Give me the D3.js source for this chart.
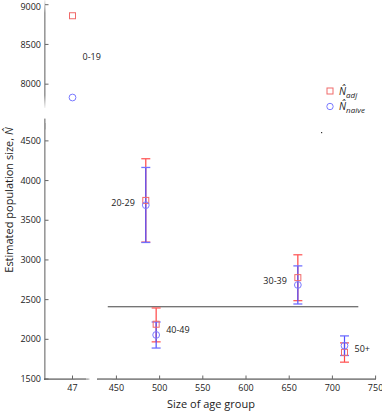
<!DOCTYPE html>
<meta charset="utf-8">
<style>
  body { margin: 0; background: #fff; }
  text { font-family: "Open Sans", "Noto Sans", sans-serif; fill: #222; }
</style>
<body>
<script src="https://d3js.org/d3.v7.min.js"></script>
<script>

// age groups and their sizes
var groups = ["0-19", "20-29", "30-39", "40-49", "50+"];
var sizes  = [47, 484, 660, 496, 714];

// adjusted estimate (squares) with interval
var nAdj   = [8861, 3750, 2777, 2190, 1836];
var adjLo  = [null, 3225, 2487, 1968, 1712];
var adjHi  = [null, 4275, 3065, 2395, 1955];

// naive estimate (circles) with interval
var nNaive  = [7832, 3690, 2685, 2055, 1920];
var naiveLo = [null, 3220, 2445, 1890, 1796];
var naiveHi = [null, 4165, 2925, 2218, 2043];

// label side for each group
var labelSide = ["right", "left", "left", "right", "right"];

var refLine = {y: 2410, from: 440, to: 730};

var topTicks = [8000, 8500, 9000];
var botTicks = [1500, 2000, 2500, 3000, 3500, 4000, 4500];
var xSmallTicks = [47];
var xMainTicks = [450, 500, 550, 600, 650, 700, 750];

var W = 382, H = 411;

var svg = d3.select("body").append("svg")
    .attr("width", W)
    .attr("height", H);

// scales - broken axes in both directions
var yTop = d3.scaleLinear().domain([7700, 9000]).range([108, 4.7]);
var yBot = d3.scaleLinear().domain([1500, 4700]).range([379, 125]);
var xSmall = d3.scaleLinear().domain([41.5, 49.5]).range([45, 85]);
var xMain = d3.scaleLinear().domain([431, 750]).range([100, 375.6]);

function X(v) { return v < 100 ? xSmall(v) : xMain(v); }
function Y(v) { return v > 6000 ? yTop(v) : yBot(v); }

// fading gradients for the break ends
var defs = svg.append("defs");
function grad(id, x1, y1, x2, y2) {
  var g = defs.append("linearGradient").attr("id", id)
      .attr("x1", x1).attr("y1", y1).attr("x2", x2).attr("y2", y2);
  g.append("stop").attr("offset", "0%").attr("stop-color", "#999").attr("stop-opacity", 0.1);
  g.append("stop").attr("offset", "12%").attr("stop-color", "#999");
  g.append("stop").attr("offset", "88%").attr("stop-color", "#999");
  g.append("stop").attr("offset", "100%").attr("stop-color", "#999").attr("stop-opacity", 0.1);
}
grad("gv", 0, 0, 0, 1);
grad("gh", 0, 0, 1, 0);

// left axis segments
svg.append("rect").attr("x", 44).attr("y", 0).attr("width", 1.6).attr("height", 108)
    .attr("fill", "url(#gv)");
svg.append("rect").attr("x", 44).attr("y", 123).attr("width", 1.6).attr("height", 257)
    .attr("fill", "#999");
svg.append("rect").attr("x", 44).attr("y", 118).attr("width", 1.6).attr("height", 12)
    .attr("fill", "url(#gv)");

// bottom axis segments
svg.append("rect").attr("x", 44).attr("y", 378.5).attr("width", 42).attr("height", 1.2)
    .attr("fill", "#555");
svg.append("rect").attr("x", 74).attr("y", 378.5).attr("width", 16).attr("height", 1.2)
    .attr("fill", "url(#gh)");
svg.append("rect").attr("x", 97).attr("y", 378.5).attr("width", 279).attr("height", 1.2)
    .attr("fill", "#555");
svg.append("rect").attr("x", 97).attr("y", 378.5).attr("width", 16).attr("height", 1.2)
    .attr("fill", "url(#gh)");

// y ticks
function yTicks(scale, ticks) {
  var g = svg.append("g");
  g.selectAll("line").data(ticks).enter().append("line")
      .attr("x1", 45).attr("x2", 48.5)
      .attr("y1", function(d) { return scale(d); })
      .attr("y2", function(d) { return scale(d); })
      .attr("stroke", "#666").attr("stroke-width", 1);
  g.selectAll("text").data(ticks).enter().append("text")
      .attr("x", 41).attr("y", function(d) { return Math.max(scale(d), 6.5); })
      .attr("dy", "0.35em")
      .attr("text-anchor", "end")
      .attr("font-size", 9)
      .text(function(d) { return d; });
}
yTicks(yTop, topTicks);
yTicks(yBot, botTicks);

// x ticks
function xTicks(scale, ticks) {
  var g = svg.append("g");
  g.selectAll("line").data(ticks).enter().append("line")
      .attr("x1", function(d) { return scale(d); })
      .attr("x2", function(d) { return scale(d); })
      .attr("y1", 379).attr("y2", 375.5)
      .attr("stroke", "#666").attr("stroke-width", 1);
  g.selectAll("text").data(ticks).enter().append("text")
      .attr("x", function(d) { return scale(d); })
      .attr("y", 391)
      .attr("text-anchor", "middle")
      .attr("font-size", 9)
      .text(function(d) { return d; });
}
xTicks(xSmall, xSmallTicks);
xTicks(xMain, xMainTicks);

// axis titles
svg.append("text")
    .attr("x", 211).attr("y", 408)
    .attr("text-anchor", "middle")
    .attr("font-size", 11)
    .text("Size of age group");

var yl = svg.append("text")
    .attr("transform", "translate(13,200) rotate(-90)")
    .attr("text-anchor", "middle")
    .attr("font-size", 11);
yl.append("tspan").text("Estimated population size, ");
yl.append("tspan").attr("font-style", "italic").text("N\u0302");

// reference line
svg.append("line")
    .attr("x1", xMain(refLine.from)).attr("x2", xMain(refLine.to))
    .attr("y1", yBot(refLine.y)).attr("y2", yBot(refLine.y))
    .attr("stroke", "#444").attr("stroke-width", 1);

var data = groups.map(function(g, i) {
  return {g: g, x: sizes[i], adj: nAdj[i], aLo: adjLo[i], aHi: adjHi[i],
          nv: nNaive[i], nLo: naiveLo[i], nHi: naiveHi[i], side: labelSide[i]};
});

// error bars
function errBars(lo, hi, color, capColor) {
  var g = svg.append("g");
  var d2 = data.filter(function(d) { return d[lo] != null; });
  g.selectAll(".stem").data(d2).enter().append("line")
      .attr("x1", function(d) { return X(d.x); })
      .attr("x2", function(d) { return X(d.x); })
      .attr("y1", function(d) { return Y(d[lo]); })
      .attr("y2", function(d) { return Y(d[hi]); })
      .attr("stroke", color).attr("stroke-width", 1.2);
  [lo, hi].forEach(function(k) {
    g.selectAll(".cap" + k).data(d2).enter().append("line")
        .attr("x1", function(d) { return X(d.x) - 4.5; })
        .attr("x2", function(d) { return X(d.x) + 4.5; })
        .attr("y1", function(d) { return Y(d[k]); })
        .attr("y2", function(d) { return Y(d[k]); })
        .attr("stroke", capColor).attr("stroke-width", 1.3);
  });
}
errBars("aLo", "aHi", "#ff4545", "#ff5c5c");
errBars("nLo", "nHi", "#4f4fff", "#7070ff");

// markers
svg.selectAll(".sq").data(data).enter().append("rect")
    .attr("x", function(d) { return X(d.x) - 3; })
    .attr("y", function(d) { return Y(d.adj) - 3; })
    .attr("width", 6).attr("height", 6)
    .attr("fill", "none").attr("stroke", "#f06a6a").attr("stroke-width", 1);
svg.selectAll(".ci").data(data).enter().append("circle")
    .attr("cx", function(d) { return X(d.x); })
    .attr("cy", function(d) { return Y(d.nv); })
    .attr("r", 3.4)
    .attr("fill", "none").attr("stroke", "#7a7aff").attr("stroke-width", 1);

// group labels
svg.selectAll(".lab").data(data).enter().append("text")
    .attr("x", function(d) { return X(d.x) + (d.side == "left" ? -11 : 10); })
    .attr("y", function(d) { return (Y(d.adj) + Y(d.nv)) / 2; })
    .attr("dy", "0.35em")
    .attr("text-anchor", function(d) { return d.side == "left" ? "end" : "start"; })
    .attr("font-size", 9)
    .text(function(d) { return d.g; });

// legend
var leg = svg.append("g").attr("transform", "translate(330,0)");
leg.append("rect").attr("x", -3).attr("y", 88).attr("width", 6).attr("height", 6)
    .attr("fill", "none").attr("stroke", "#f06a6a");
leg.append("circle").attr("cx", 0).attr("cy", 106.5).attr("r", 3.2)
    .attr("fill", "none").attr("stroke", "#7a7aff");
[["adj", 95], ["naive", 110]].forEach(function(l) {
  var t = leg.append("text").attr("x", 9).attr("y", l[1])
      .attr("font-family", "'DejaVu Serif', 'Liberation Serif', serif")
      .attr("font-style", "italic").attr("font-size", 10);
  t.append("tspan").text("N\u0302");
  t.append("tspan").attr("font-size", 8).attr("dy", 2.5).text(l[0]);
});

// stray dot
svg.append("rect").attr("x", 321).attr("y", 132).attr("width", 1.2).attr("height", 1.2)
    .attr("fill", "#333");

</script>
</body>
